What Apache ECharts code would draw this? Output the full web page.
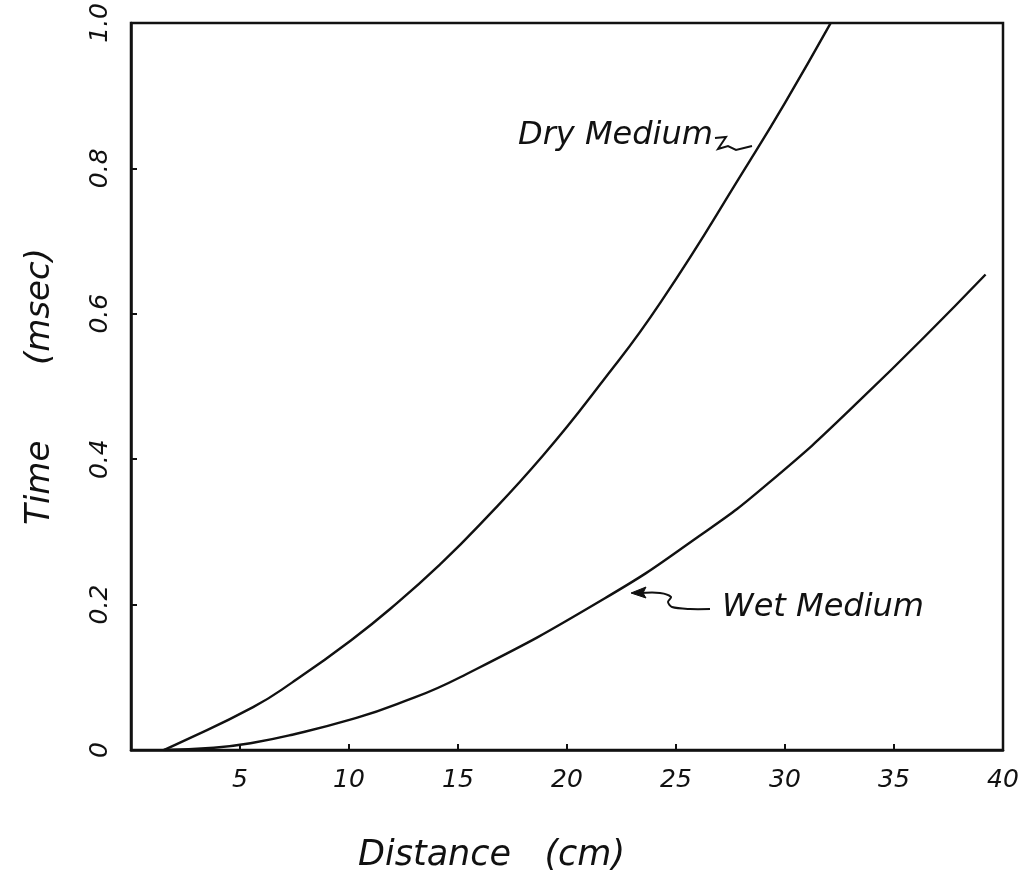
<!DOCTYPE html>
<html>
<head>
<meta charset="utf-8">
<script src="https://cdn.jsdelivr.net/npm/echarts@6/dist/echarts.min.js"></script>
<style>
  html, body { margin: 0; padding: 0; background: #fff; }
  #chart { width: 1028px; height: 873px; }
</style>
</head>
<body>
<div id="chart"></div>
<script>
// Travel time versus distance for the dry and wet media
const dryDistance = [1.5, 2.1, 5.6, 7.4, 10.1, 12.2, 14.2, 16.0, 18.9, 21.5, 24.3, 28.4, 30.0, 32.1];
const dryTime     = [0.0, 0.008, 0.059, 0.093, 0.151, 0.202, 0.256, 0.310, 0.405, 0.502, 0.616, 0.811, 0.890, 1.0];

const wetDistance = [1.5, 3.8, 5.6, 7.4, 10.1, 12.2, 15.1, 21.7, 26.1, 29.2, 33.4, 39.2];
const wetTime     = [0.0, 0.003, 0.010, 0.021, 0.042, 0.063, 0.100, 0.208, 0.295, 0.366, 0.480, 0.654];

const xTicks = [5, 10, 15, 20, 25, 30, 35, 40];
const yTickLabels = { 0: '0', 0.2: '0.2', 0.4: '0.4', 0.6: '0.6', 0.8: '0.8', 1: '1.0' };

const FONT = '"DejaVu Sans", sans-serif';
const INK = '#111';

const pairs = (xs, ys) => xs.map((x, i) => [x, ys[i]]);

const chart = echarts.init(document.getElementById('chart'), null, { renderer: 'canvas' });

const curveStyle = { color: INK, width: 2.4 };

chart.setOption({
  backgroundColor: '#fff',
  animation: false,
  grid: {
    left: 131, right: 25, top: 21, bottom: 123,
    show: true, borderColor: INK, borderWidth: 2.5, backgroundColor: 'transparent'
  },
  xAxis: {
    type: 'value', min: 0, max: 40, interval: 5,
    splitLine: { show: false },
    axisLine: { show: true, lineStyle: { color: INK, width: 2.5 } },
    axisTick: { show: true, inside: true, length: 6, lineStyle: { color: INK, width: 2 } },
    axisLabel: {
      margin: 18, color: INK, fontFamily: FONT, fontStyle: 'italic', fontSize: 25,
      formatter: v => (xTicks.indexOf(v) >= 0 ? String(v) : '')
    }
  },
  yAxis: {
    type: 'value', min: 0, max: 1, interval: 0.2,
    name: 'Time       (msec)', nameLocation: 'middle', nameGap: 74, nameRotate: 90,
    nameTextStyle: { color: INK, fontFamily: FONT, fontStyle: 'italic', fontSize: 34 },
    splitLine: { show: false },
    axisLine: { show: true, lineStyle: { color: INK, width: 2.5 } },
    axisTick: { show: true, inside: true, length: 6, lineStyle: { color: INK, width: 2 } },
    axisLabel: {
      margin: 18, rotate: 90, color: INK, fontFamily: FONT, fontStyle: 'italic', fontSize: 25,
      formatter: v => {
        const k = Math.round(v * 10) / 10;
        return yTickLabels[k] !== undefined ? yTickLabels[k] : '';
      }
    }
  },
  series: [
    {
      name: 'Dry Medium', type: 'line', data: pairs(dryDistance, dryTime),
      smooth: 0.5, showSymbol: false, symbol: 'none',
      lineStyle: curveStyle, clip: true
    },
    {
      name: 'Wet Medium', type: 'line', data: pairs(wetDistance, wetTime),
      smooth: 0.5, showSymbol: false, symbol: 'none',
      lineStyle: curveStyle, clip: true
    }
  ],
  graphic: [
    {
      type: 'text', left: 358, top: 838,
      style: { text: 'Distance   (cm)', fill: INK, font: 'italic 35px ' + FONT }
    },
    {
      type: 'text', left: 518, top: 120,
      style: { text: 'Dry Medium', fill: INK, font: 'italic 32px ' + FONT }
    },
    {
      // little hooked tail joining the dry label to its curve
      type: 'polyline',
      shape: { points: [[715, 138], [726, 137], [718, 149], [728, 146], [736, 150], [752, 146]] },
      style: { stroke: INK, lineWidth: 2, fill: null }
    },
    {
      type: 'text', left: 722, top: 592,
      style: { text: 'Wet Medium', fill: INK, font: 'italic 32px ' + FONT }
    },
    {
      // curved leader from the wet label to its curve
      type: 'polyline',
      shape: {
        points: [[710, 609], [690, 609], [672, 607], [668, 602], [671, 597], [660, 593], [640, 593]],
        smooth: 0.3
      },
      style: { stroke: INK, lineWidth: 2, fill: null }
    },
    {
      type: 'polygon',
      shape: { points: [[631, 593], [646, 587], [643, 593], [646, 598]] },
      style: { fill: INK, stroke: INK, lineWidth: 1 }
    }
  ]
});
</script>
</body>
</html>
